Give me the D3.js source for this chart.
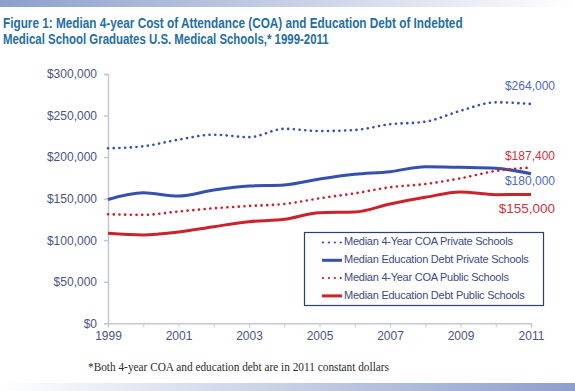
<!DOCTYPE html>
<html>
<head>
<meta charset="utf-8">
<script src="https://cdn.jsdelivr.net/npm/d3@7"></script>
<style>
  body { margin: 0; background: #fff; }
  svg { display: block; }
</style>
</head>
<body>
<div id="chart"></div>
<script>
// Data
const years = [1999, 2000, 2001, 2002, 2003, 2004, 2005, 2006, 2007, 2008, 2009, 2010, 2011];
const coaPrivate  = [210600, 213000, 221000, 227000, 224000, 234000, 231400, 232600, 239500, 242600, 255800, 265900, 264000];
const debtPrivate = [149000, 157000, 153200, 160400, 165200, 166400, 173600, 179300, 182400, 188500, 187700, 186500, 180000];
const coaPublic   = [131200, 130500, 134500, 138400, 141200, 143600, 150400, 156400, 163700, 167600, 174500, 183300, 187400];
const debtPublic  = [108300, 106300, 109900, 116300, 122300, 125100, 133100, 133900, 143600, 151600, 158000, 154800, 155000];
const yTicks = [0, 50000, 100000, 150000, 200000, 250000, 300000];
const xTicks = [1999, 2001, 2003, 2005, 2007, 2009, 2011];

const seriesNames = [
  'Median 4-Year COA Private Schools',
  'Median Education Debt Private Schools',
  'Median 4-Year COA Public Schools',
  'Median Education Debt Public Schools'
];
const endLabels = ['$264,000', '$180,000', '$187,400', '$155,000'];
const titleLines = [
  'Figure 1: Median 4-year Cost of Attendance (COA) and Education Debt of Indebted',
  'Medical School Graduates U.S. Medical Schools,* 1999-2011'
];

const blue = '#3550b0';
const red = '#cc2229';

const series = [
  { name: seriesNames[0], values: coaPrivate,  color: blue, dotted: true,  label: endLabels[0], labelColor: '#4d69c0', dy: -17,   size: 12 },
  { name: seriesNames[1], values: debtPrivate, color: blue, dotted: false, label: endLabels[1], labelColor: '#4d69c0', dy: 8,     size: 12 },
  { name: seriesNames[2], values: coaPublic,   color: red,  dotted: true,  label: endLabels[2], labelColor: '#d0343a', dy: -10.6, size: 12 },
  { name: seriesNames[3], values: debtPublic,  color: red,  dotted: false, label: endLabels[3], labelColor: '#d0343a', dy: 14.7,  size: 13.5 }
];

const width = 575, height = 391;
const svg = d3.select('#chart').append('svg')
  .attr('width', width)
  .attr('height', height);

// gradient bands top and bottom
const defs = svg.append('defs');
const gTop = defs.append('linearGradient').attr('id', 'gtop');
gTop.append('stop').attr('offset', '0%').attr('stop-color', '#8d9fcb');
gTop.append('stop').attr('offset', '100%').attr('stop-color', '#ffffff');
const gBot = defs.append('linearGradient').attr('id', 'gbot');
gBot.append('stop').attr('offset', '0%').attr('stop-color', '#ffffff');
gBot.append('stop').attr('offset', '100%').attr('stop-color', '#8d9fcb');

svg.append('rect').attr('x', 0).attr('y', 0).attr('width', width).attr('height', 7).attr('fill', 'url(#gtop)');
svg.append('rect').attr('x', 0).attr('y', 383).attr('width', width).attr('height', 8).attr('fill', 'url(#gbot)');

// title, squeezed horizontally to match the narrow original face
const titleWidths = [460, 326];
const titleY = [27.5, 44];
titleLines.forEach((t, i) => {
  const el = svg.append('text')
    .attr('x', 0).attr('y', 0)
    .attr('fill', '#1f6ea6')
    .attr('font-family', 'Arial, "Liberation Sans", sans-serif')
    .attr('font-weight', 'bold')
    .attr('font-size', 14)
    .text(t);
  const len = el.node().getComputedTextLength();
  el.attr('transform', `translate(3,${titleY[i]}) scale(${titleWidths[i] / len},1)`);
});

const x = d3.scaleLinear().domain([1999, 2011]).range([108, 531]);
const y = d3.scaleLinear().domain([0, 300000]).range([323.3, 74]);

const axisColor = '#c4c7d8';
const tickText = '#4a5483';

// y axis
const yAxis = svg.append('g')
  .attr('transform', 'translate(108,0)')
  .call(d3.axisLeft(y).tickValues(yTicks).tickSize(4).tickPadding(7).tickFormat(d => '$' + d3.format(',')(d)));
yAxis.selectAll('path, line').attr('stroke', axisColor).attr('stroke-width', 1.5);
yAxis.selectAll('text').attr('fill', tickText).attr('font-family', 'Arial, "Liberation Sans", sans-serif').attr('font-size', 12);

// x axis
const xAxis = svg.append('g')
  .attr('transform', 'translate(0,323.3)')
  .call(d3.axisBottom(x).tickValues(years).tickSize(4).tickPadding(4).tickFormat(d => xTicks.includes(d) ? String(d) : ''));
xAxis.select('.domain').attr('stroke', axisColor).attr('stroke-width', 1.5);
xAxis.selectAll('line').attr('stroke', axisColor).attr('stroke-width', 1);
xAxis.selectAll('text').attr('fill', tickText).attr('font-family', 'Arial, "Liberation Sans", sans-serif').attr('font-size', 12);

// lines
const line = d3.line()
  .x((d, i) => x(years[i]))
  .y(d => y(d))
  .curve(d3.curveMonotoneX);

series.forEach(s => {
  const p = svg.append('path')
    .datum(s.values)
    .attr('fill', 'none')
    .attr('stroke', s.color)
    .attr('d', line);
  if (s.dotted) {
    p.attr('stroke-width', 2.6).attr('stroke-linecap', 'round').attr('stroke-dasharray', '0.1 5.6');
  } else {
    p.attr('stroke-width', 3);
  }
  svg.append('text')
    .attr('x', 555)
    .attr('y', y(s.values[s.values.length - 1]) + s.dy)
    .attr('text-anchor', 'end')
    .attr('dominant-baseline', 'middle')
    .attr('fill', s.labelColor)
    .attr('font-family', 'Arial, "Liberation Sans", sans-serif')
    .attr('font-size', s.size)
    .text(s.label);
});

// legend
const legend = svg.append('g');
legend.append('rect')
  .attr('x', 304.5).attr('y', 232.5).attr('width', 239).attr('height', 73)
  .attr('fill', '#fff').attr('stroke', '#2a3e78').attr('stroke-width', 1.2);
series.forEach((s, i) => {
  const ly = 242.5 + i * 17.8;
  const l = legend.append('line')
    .attr('x1', s.dotted ? 323 : 322).attr('x2', 342)
    .attr('y1', ly).attr('y2', ly)
    .attr('stroke', s.color);
  if (s.dotted) {
    l.attr('stroke-width', 2.2).attr('stroke-linecap', 'round').attr('stroke-dasharray', '0.1 5.8');
  } else {
    l.attr('stroke-width', 3);
  }
  legend.append('text')
    .attr('x', 344).attr('y', ly)
    .attr('dominant-baseline', 'middle')
    .attr('fill', '#3d4a85')
    .attr('font-family', 'Arial, "Liberation Sans", sans-serif')
    .attr('font-size', 11)
    .attr('letter-spacing', -0.25)
    .text(s.name);
});

// footnote
svg.append('text')
  .attr('x', 88).attr('y', 370.5)
  .attr('fill', '#2b2b2b')
  .attr('font-family', '"Liberation Serif", "Times New Roman", serif')
  .attr('font-size', 12)
  .attr('textLength', 301).attr('lengthAdjust', 'spacingAndGlyphs')
  .text('*Both 4-year COA and education debt are in 2011 constant dollars');
</script>
</body>
</html>
